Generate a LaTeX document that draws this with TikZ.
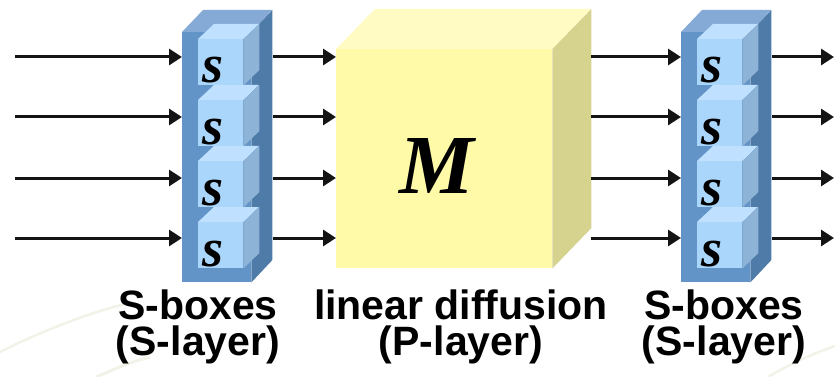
\documentclass[tikz,border=0pt]{standalone}
\usepackage{fontspec}
\setmainfont{Liberation Serif}
\newfontfamily\labelfont{Liberation Sans}
\usetikzlibrary{arrows.meta}
\usetikzlibrary{positioning}

\definecolor{layerfront}{HTML}{6394C8}
\definecolor{layertop}{HTML}{86AAD6}
\definecolor{layerside}{HTML}{4F7BA9}
\definecolor{cubefront}{HTML}{AAD6FB}
\definecolor{cubetop}{HTML}{BFE1FF}
\definecolor{cubeside}{HTML}{8DB3D7}
\definecolor{mfront}{HTML}{FFFAA8}
\definecolor{mtop}{HTML}{FFFBC2}
\definecolor{mside}{HTML}{D6D38F}
\definecolor{swoosh}{HTML}{F2F2E8}

\begin{document}
\begin{tikzpicture}[x=1pt, y=-1pt,
    face/.style={inner sep=0pt, anchor=north west},
    arr/.style={line width=3pt, draw=black!92, -{Triangle[length=13pt,width=16pt]}},
    lbl/.style={font=\labelfont\bfseries\fontsize{41}{36}\selectfont, align=center, anchor=base},
    sym/.style={font=\bfseries\itshape\fontsize{54}{54}\selectfont, inner sep=0pt, anchor=base}]
  \useasboundingbox (0,0) rectangle (835,377);

  % faint background swooshes
  \draw[swoosh, line width=2.5pt] (0,352) .. controls (40,332) and (85,314) .. (125,304);
  \draw[swoosh, line width=3pt] (96,377) .. controls (115,369) and (130,362) .. (150,357);
  \draw[swoosh, line width=2.5pt] (768,377) .. controls (790,364) and (812,354) .. (835,346);

  % S-layers with their S-boxes
  \foreach \l/\x in {1/182, 2/681} {
    \node[face, fill=layerfront, minimum width=69pt, minimum height=250pt] (sl\l) at (\x,32) {};
    \fill[layertop] (sl\l.north west) -- ++(21,-22) -- ++(69,0) -- (sl\l.north east) -- cycle;
    \fill[layerside] (sl\l.north east) -- ++(21,-22) -- ++(0,250) -- (sl\l.south east) -- cycle;
    \foreach \i/\y in {1/39, 2/100, 3/161, 4/222} {
      \node[face, fill=cubefront, minimum width=45pt, minimum height=46pt] (sb\l\i) at (\x+16,\y) {};
      \fill[cubetop] (sb\l\i.north west) -- ++(16,-15) -- ++(45,0) -- (sb\l\i.north east) -- cycle;
      \fill[cubeside] (sb\l\i.north east) -- ++(16,-15) -- ++(0,46) -- (sb\l\i.south east) -- cycle;
      \node[sym] (ss\l\i) at (\x+31,\y+44) {s};
    }
  }

  % linear diffusion box
  \node[face, fill=mfront, minimum width=216pt, minimum height=219pt] (mbox) at (336,49) {};
  \fill[mtop] (mbox.north west) -- ++(39,-40) -- ++(216,0) -- (mbox.north east) -- cycle;
  \fill[mside] (mbox.north east) -- ++(39,-40) -- ++(0,219) -- (mbox.south east) -- cycle;
  \node[font=\bfseries\itshape\fontsize{84}{84}\selectfont, inner sep=0pt, anchor=base] (mlabel) at (437,193) {M};

  % wires
  \foreach \y [count=\k] in {57, 117, 178, 238} {
    \coordinate (in\k) at (15,\y);
    \coordinate (mid\k) at (273,\y);
    \coordinate (pm\k) at (591,\y);
    \coordinate (out\k) at (772,\y);
    \coordinate (end\k) at (834,\y);
    \draw[arr] (in\k) -- (in\k -| sl1.west);
    \draw[arr] (mid\k) -- (mid\k -| mbox.west);
    \draw[arr] (pm\k) -- (pm\k -| sl2.west);
    \draw[arr] (out\k) -- (end\k);
  }

  % captions
  \node[lbl] (cap1) at (198,355) {S-boxes\\(S-layer)};
  \node[lbl] (cap2) at (461,355) {linear diffusion\\(P-layer)};
  \node[lbl] (cap3) at (724,355) {S-boxes\\(S-layer)};
\end{tikzpicture}
\end{document}
